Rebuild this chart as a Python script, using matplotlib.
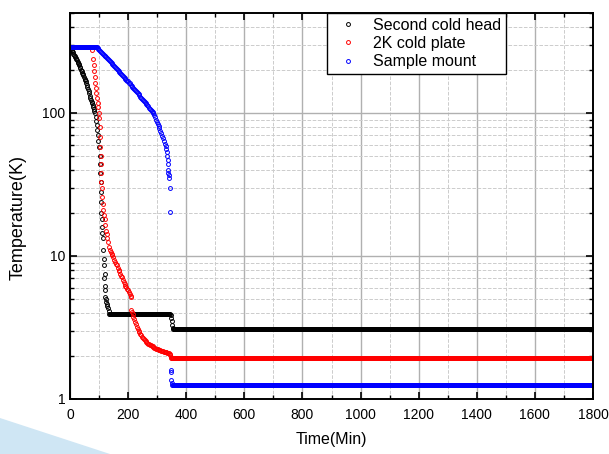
import numpy as np
import matplotlib.pyplot as plt
from matplotlib.patches import Polygon
from matplotlib.ticker import MultipleLocator, LogLocator, NullFormatter, FixedLocator

plt.rcParams['font.family'] = ['Liberation Sans', 'DejaVu Sans']

# transient parts (time in min, temperature in K)
head_t = [0, 2, 4, 6, 8, 10, 12, 14, 16, 18, 20, 22, 24, 26, 28, 30, 32, 34, 36, 38,
          40, 42, 44, 46, 48, 50, 52, 54, 56, 58, 60, 62, 64, 66, 68, 70, 72, 74, 76, 78,
          80, 82, 84, 86, 88, 90, 92, 94, 96, 98, 100,
          102, 103, 104, 105, 106, 107, 108, 109, 110, 111, 113, 115, 116, 117, 118,
          119, 120, 121, 122, 123, 125, 127, 129, 131, 133, 135,
          346, 348, 350, 352, 354, 356]
head_T = [291, 286, 281, 276, 270, 265, 260, 255, 251, 246, 242, 237, 233, 229, 225, 220, 215, 210, 205, 200,
          195, 191, 187, 183, 179, 174, 170, 166, 161, 157, 152, 147, 142, 137, 132, 128, 124, 120, 117, 113,
          110, 107, 103, 99.5, 94, 88, 82, 76, 70, 64, 58,
          50, 44, 38, 33, 28, 24, 20, 18, 16, 14.5, 13.3, 11, 8.6, 9.5, 7.0,
          7.5, 6.2, 5.8, 5.2, 5.0, 4.8, 4.6, 4.45, 4.3, 4.1, 3.95,
          3.85, 3.7, 3.5, 3.3, 3.15, 3.1]

plate_t = [77, 79, 81, 83, 85, 87, 89, 91, 93, 95, 97, 99, 101, 102, 103, 104, 105, 106, 107,
           108, 109, 111, 113, 115, 118, 120, 122, 124, 126, 128, 131, 134, 138, 140,
           143, 146, 149, 152, 155, 158, 161, 164, 167, 170, 173, 176, 179, 182, 185, 188,
           191, 194, 197, 200, 203, 206, 209, 210,
           211, 213, 216, 218, 221, 224, 227, 230, 233, 236, 239, 242, 245, 248, 251, 254,
           257, 260, 263, 266, 269, 272, 275, 278, 281, 284, 287, 290, 293, 296, 299, 302,
           305, 308, 311, 314, 317, 320, 323, 326, 329, 332, 335, 338, 341, 343, 345, 347, 349]
plate_T = [275, 240, 215, 195, 178, 163, 150, 138, 127, 118, 110, 100, 92, 80, 68, 58, 50, 44, 38,
           33, 30, 26, 23, 21, 19.5, 18, 16.5, 15, 14.2, 13.4, 12.5, 11.6, 11, 10.7,
           10.4, 10.1, 9.8, 9.4, 9.1, 8.8, 8.6, 8.3, 8.0, 7.8, 7.5, 7.3, 7.1, 6.8, 6.6, 6.4,
           6.2, 6.05, 5.9, 5.75, 5.6, 5.4, 5.25, 5.2,
           4.2, 4.05, 3.9, 3.76, 3.6, 3.45, 3.32, 3.2, 3.1, 3.01, 2.93, 2.86, 2.78, 2.72, 2.66, 2.61,
           2.57, 2.54, 2.51, 2.47, 2.44, 2.41, 2.39, 2.37, 2.35, 2.33, 2.31, 2.29, 2.27, 2.25, 2.24, 2.22,
           2.21, 2.2, 2.19, 2.17, 2.16, 2.15, 2.14, 2.13, 2.12, 2.12, 2.11, 2.11, 2.09, 2.06, 2.03, 1.98, 1.94]

mount_t = [95, 98, 101, 104, 107, 110, 113, 116, 119, 122, 125, 128, 131, 134, 137, 140, 143,
           146, 149, 152, 155, 158, 161, 164, 167, 170, 173, 176, 179, 182, 185, 188, 191, 194,
           197, 200, 203, 206, 209, 212, 215, 218, 221, 224, 227, 230, 233, 236, 239, 242, 245,
           248, 251, 254, 257, 260, 263, 266, 269, 272, 275, 278, 281, 284, 287, 290, 293, 296,
           299, 302, 305, 308, 311, 314, 317, 320, 323, 326, 329, 332, 334, 335, 336, 337, 338,
           339, 340, 342, 344, 345, 346, 347, 349, 350]
mount_T = [285.5, 281, 277, 272.5, 268.5, 264, 260, 256, 252, 248.5, 244.5, 241, 237, 233.5, 230, 226, 222.5,
           219, 216, 212.5, 209, 206, 203, 200, 197, 194, 191, 188, 185, 182, 179, 176.5, 174, 171,
           168, 166, 163, 161, 158, 155.5, 152.5, 150, 147.5, 145, 142.5, 140, 137.5, 135, 132.5, 130, 128,
           126, 123.5, 121.5, 119, 117, 115, 113, 111, 109, 107, 105, 103.5, 101.5, 100, 97, 93.5, 90,
           87, 84, 81, 78, 75, 72.5, 69.5, 67, 64, 61, 58.5, 56, 53, 50, 47, 44, 40,
           38, 37, 35, 30, 20.4, 1.6, 1.55, 1.35, 1.3]

# flat stretches: (start, end, temperature)
head_flat = [(136, 345, 3.92), (357, 1800, 3.1)]
plate_flat = [(0, 76, 290), (350, 1800, 1.92)]
mount_flat = [(0, 92, 290), (351, 1800, 1.26)]

names = ['Second cold head', '2K cold plate', 'Sample mount']
colors = ['black', 'red', 'blue']


def build(t, T, flats):
    tt, TT = list(t), list(T)
    for a, b, v in flats:
        s = np.arange(a, b + 1, 2)
        tt += list(s)
        TT += [v] * len(s)
    order = np.argsort(tt)
    return np.array(tt)[order], np.array(TT)[order]


fig = plt.figure(figsize=(6.09, 4.54), dpi=100)
fig.patches.append(Polygon([(0, 0), (0, 36 / 454), (110 / 609, 0)], closed=True,
                           transform=fig.transFigure, facecolor='#cfe6f4', edgecolor='none', zorder=0))
ax = fig.add_axes([70 / 609, 55 / 454, 523 / 609, 386 / 454])

series = [build(head_t, head_T, head_flat),
          build(plate_t, plate_T, plate_flat),
          build(mount_t, mount_T, mount_flat)]
for (t, T), name, c in zip(series, names, colors):
    ax.plot(t, T, linestyle='none', marker='o', markersize=2.8, mfc='none', mec=c,
            mew=0.7, label=name)

ax.set_yscale('log')
ax.set_xlim(0, 1800)
ax.set_ylim(1, 500)
ax.xaxis.set_major_locator(MultipleLocator(200))
ax.xaxis.set_minor_locator(MultipleLocator(100))
ax.yaxis.set_major_locator(FixedLocator([1, 10, 100]))
ax.yaxis.set_minor_locator(LogLocator(base=10, subs=np.arange(2, 10)))
ax.yaxis.set_minor_formatter(NullFormatter())
ax.set_yticklabels(['1', '10', '100'])

ax.grid(which='major', color='#b0b0b0', linestyle='-', linewidth=1.0)
ax.grid(which='minor', color='#cccccc', linestyle='--', linewidth=0.7)
ax.set_axisbelow(True)
ax.tick_params(which='both', direction='in', top=True, right=True, labelsize=10)
ax.tick_params(axis='x', which='major', pad=6.5)
ax.tick_params(which='major', length=5, width=1.2)
ax.tick_params(which='minor', length=3, width=1.0)
for sp in ax.spines.values():
    sp.set_linewidth(1.4)

ax.set_xlabel('Time(Min)', fontsize=11.5)
ax.set_ylabel('Temperature(K)', fontsize=13)
ax.xaxis.set_label_coords(0.5, -0.085)
ax.yaxis.set_label_coords(-0.082, 0.4715)

leg = ax.legend(loc='upper left', bbox_to_anchor=(0.491, 1.0), borderaxespad=0,
                fontsize=11.5, frameon=True, fancybox=False, framealpha=1,
                edgecolor='black', numpoints=1, handlelength=2.0, handletextpad=0.6,
                labelspacing=0.2, borderpad=0.3, markerscale=1.0)
leg.get_frame().set_linewidth(1.0)

fig.savefig('out.png', dpi=100)
